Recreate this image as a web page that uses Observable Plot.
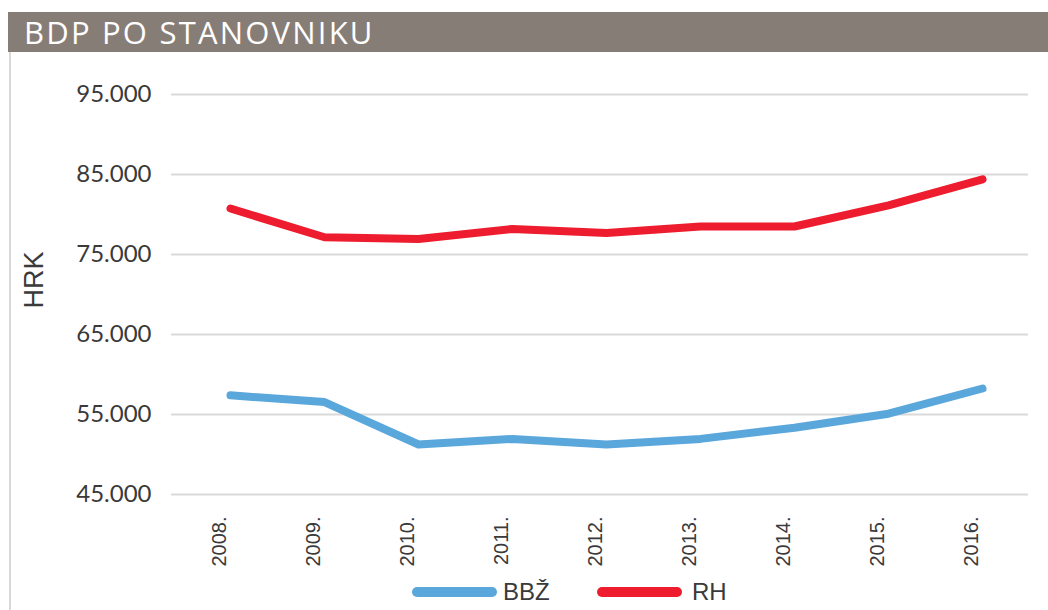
<!DOCTYPE html>
<html>
<head>
<meta charset="utf-8">
<script src="https://cdn.jsdelivr.net/npm/d3@7"></script>
<script src="https://cdn.jsdelivr.net/npm/@observablehq/plot@0.6"></script>
<style>
  html, body { margin: 0; padding: 0; background: #fff; width: 1048px; height: 610px; overflow: hidden; position: relative; font-family: Lato, "Open Sans", sans-serif; }
  #title { position: absolute; left: 8px; top: 12px; width: 1040px; height: 40px; background: #877d77; color: #fff; font-family: "Open Sans", Lato, sans-serif; font-size: 31px; line-height: 40px; padding-left: 16px; box-sizing: border-box; letter-spacing: 2.2px; }
  #border { position: absolute; left: 9px; top: 52px; width: 2px; height: 558px; background: #dcd8d6; }
  #chart { position: absolute; left: 0; top: 53px; }
  #legend { position: absolute; left: 0; top: 578px; width: 1048px; height: 28px; font-family: "Liberation Sans Narrow", "Liberation Sans", sans-serif; font-size: 24px; color: #3a3a3a; }
  .item { position: absolute; top: 0; height: 28px; line-height: 28px; }
  .swatch { position: absolute; top: 9px; height: 10px; border-radius: 5px; }
</style>
</head>
<body>
<div id="title">BDP PO STANOVNIKU</div>
<div id="border"></div>
<div id="chart"></div>
<div id="legend"></div>
<script>
const years = ["2008.", "2009.", "2010.", "2011.", "2012.", "2013.", "2014.", "2015.", "2016."];
const bbz = [57400, 56550, 51250, 51950, 51250, 51950, 53350, 55100, 58250];
const rh  = [80750, 77150, 76950, 78200, 77700, 78500, 78500, 81150, 84400];
const seriesNames = ["BBŽ", "RH"];
const seriesColors = ["#5aa7dc", "#ed1c2e"];
const yTicks = [45000, 55000, 65000, 75000, 85000, 95000];

const rows = [];
years.forEach((y, i) => {
  rows.push({year: y, value: bbz[i], series: seriesNames[0]});
  rows.push({year: y, value: rh[i], series: seriesNames[1]});
});

const fmt = d => d3.format(",")(d).replace(/,/g, ".");
const narrow = "'Liberation Sans Narrow', 'Liberation Sans', sans-serif";

const plot = Plot.plot({
  width: 1048,
  height: 522,
  marginLeft: 171,
  marginRight: 20,
  marginTop: 41,
  marginBottom: 81,
  style: { fontFamily: "Lato, 'Open Sans', sans-serif", background: "transparent" },
  x: { type: "point", domain: years, range: [226, 985], padding: 0 },
  y: { domain: [45000, 95000] },
  color: { domain: seriesNames, range: seriesColors },
  marks: [
    Plot.gridY(yTicks, { stroke: "#d9d9d9", strokeOpacity: 1, strokeWidth: 2 }),
    Plot.axisY(yTicks, { tickSize: 0, tickPadding: 20, tickFormat: fmt, fontSize: 24, fill: "#3a3a3a", label: null }),
    Plot.axisX({ tickSize: 0, tickRotate: -90, tickPadding: 22, dx: -11, fontSize: 20, fill: "#3a3a3a", label: null, fontFamily: narrow }),
    Plot.text(["HRK"], { frameAnchor: "left", dx: -137, dy: 14, rotate: -90, fontSize: 27, fill: "#3a3a3a", fontFamily: narrow }),
    Plot.line(rows, { x: "year", y: "value", z: "series", stroke: "series", strokeWidth: 8, strokeLinecap: "round", strokeLinejoin: "round" })
  ]
});
document.getElementById("chart").appendChild(plot);

const legend = document.getElementById("legend");
const legendPos = [[412, 503], [597, 692]];
seriesNames.forEach((name, i) => {
  const sw = document.createElement("div");
  sw.className = "swatch";
  sw.style.left = legendPos[i][0] + "px";
  sw.style.width = "85px";
  sw.style.background = seriesColors[i];
  legend.appendChild(sw);
  const t = document.createElement("div");
  t.className = "item";
  t.style.left = legendPos[i][1] + "px";
  t.textContent = name;
  legend.appendChild(t);
});
</script>
</body>
</html>
